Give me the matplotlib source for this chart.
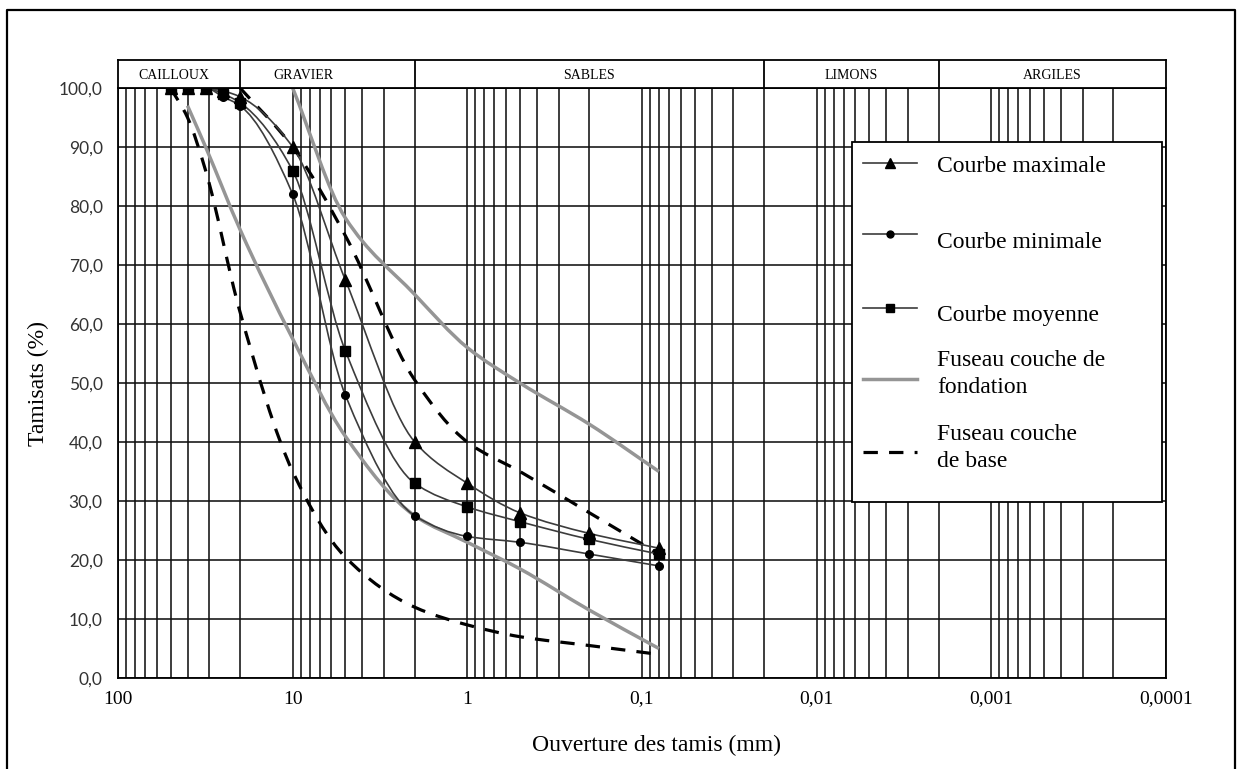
import numpy as np
import matplotlib
matplotlib.use('Agg')
import matplotlib.pyplot as plt
from matplotlib.path import Path
from matplotlib.patches import PathPatch, Rectangle
from matplotlib.ticker import FixedLocator, FixedFormatter, LogLocator, NullFormatter

# sieve openings (mm) of the three measured curves
tamis = [50, 40, 31.5, 25, 20, 10, 5, 2, 1, 0.5, 0.2, 0.08]
courbe_max = [100, 100, 100, 99.5, 98.5, 90, 67.5, 40, 33, 28, 24.5, 22]
courbe_moy = [100, 100, 100, 99, 97.5, 86, 55.5, 33, 29, 26.5, 23.5, 21]
courbe_min = [100, 100, 100, 98.5, 97, 82, 48, 27.5, 24, 23, 21, 19]

# envelopes (fuseaux)
fond_sup_x = [10, 5, 2, 1, 0.5, 0.2, 0.08]
fond_sup_y = [100, 78, 65, 56, 50, 43, 35]
fond_inf_x = [40, 31.5, 20, 10, 5, 2, 1, 0.5, 0.2, 0.08]
fond_inf_y = [97, 90, 76, 57.5, 41, 27.5, 23, 18.5, 11.5, 5]
base_sup_x = [20, 10, 5, 2, 1, 0.5, 0.2, 0.08]
base_sup_y = [100, 90, 75, 50.5, 40, 35, 28, 21]
base_inf_x = [50, 40, 31.5, 20, 10, 5, 2, 1, 0.5, 0.2, 0.08]
base_inf_y = [100, 95, 86, 62, 35, 20.5, 12, 9, 7, 5.5, 4]

classes = ['CAILLOUX', 'GRAVIER', 'SABLES', 'LIMONS', 'ARGILES']
limites = [100, 20, 2, 0.02, 0.002, 0.0001]
pos_classes = [48, 8.7, 0.2, 0.0063, 0.00045]
decades = [100, 10, 1, 0.1, 0.01, 0.001, 0.0001]
dec_labels = ['100', '10', '1', '0,1', '0,01', '0,001', '0,0001']
y_ticks = list(range(0, 101, 10))

plt.rcParams['font.family'] = ['Liberation Serif', 'DejaVu Serif']


def smooth(ax, xs, ys, **kw):
    # monotone cubic through the points, in log(x) space, drawn as bezier path
    u = np.log10(np.asarray(xs, float))
    y = np.asarray(ys, float)
    n = len(u)
    h = np.diff(u)
    d = np.diff(y) / h
    m = np.zeros(n)
    m[0], m[-1] = d[0], d[-1]
    for k in range(1, n - 1):
        if d[k - 1] * d[k] > 0:
            w1 = 2 * h[k] + h[k - 1]
            w2 = h[k] + 2 * h[k - 1]
            m[k] = (w1 + w2) / (w1 / d[k - 1] + w2 / d[k])
    verts = [(xs[0], y[0])]
    codes = [Path.MOVETO]
    for i in range(n - 1):
        verts.append((10 ** (u[i] + h[i] / 3), y[i] + m[i] * h[i] / 3))
        verts.append((10 ** (u[i + 1] - h[i] / 3), y[i + 1] - m[i + 1] * h[i] / 3))
        verts.append((xs[i + 1], y[i + 1]))
        codes += [Path.CURVE4] * 3
    ax.add_patch(PathPatch(Path(verts, codes), fill=False, **kw))


fig = plt.figure(figsize=(12.37, 7.69), dpi=100)
ax = fig.add_axes([118 / 1237, 91 / 769, 1048 / 1237, 590 / 769])
ax.set_xscale('log')
ax.set_xlim(100, 1e-4)
ax.set_ylim(0, 100)
ax.set_axisbelow(True)

ax.xaxis.set_major_locator(FixedLocator(decades))
ax.xaxis.set_major_formatter(FixedFormatter(dec_labels))
ax.xaxis.set_minor_locator(LogLocator(base=10, subs=range(2, 10)))
ax.xaxis.set_minor_formatter(NullFormatter())
ax.set_yticks(y_ticks)
ax.set_yticklabels([('%.1f' % v).replace('.', ',') for v in y_ticks],
                   family='Lato', fontsize=12.5, color='#333333')
ax.tick_params(axis='both', which='both', length=0)
ax.tick_params(axis='x', pad=9, labelsize=14)
ax.tick_params(axis='y', pad=11)
ax.grid(which='both', axis='x', color='#111111', lw=1.15)
ax.grid(which='major', axis='y', color='#111111', lw=1.15)
for s in ax.spines.values():
    s.set_linewidth(1.3)

# envelopes
fond_kw = dict(edgecolor='#959595', lw=2.5, zorder=2)
smooth(ax, fond_sup_x, fond_sup_y, **fond_kw)
smooth(ax, fond_inf_x, fond_inf_y, **fond_kw)
base_kw = dict(edgecolor='black', lw=2.3, linestyle=(0, (4.5, 3.5)), zorder=2.5)
smooth(ax, base_sup_x, base_sup_y, **base_kw)
smooth(ax, base_inf_x, base_inf_y, **base_kw)

# measured curves
curve_kw = dict(edgecolor='#3c3c3c', lw=1.2, zorder=3)
for vals, mk, ms in [(courbe_max, '^', 8), (courbe_min, 'o', 5.5), (courbe_moy, 's', 6.5)]:
    smooth(ax, tamis, vals, **curve_kw)
    ax.plot(tamis, vals, linestyle='none', marker=mk, markersize=ms,
            color='black', zorder=4)

# header band with soil classes
hx = fig.add_axes([118 / 1237, 681 / 769, 1048 / 1237, 28 / 769])
hx.set_xscale('log')
hx.set_xlim(100, 1e-4)
hx.set_ylim(0, 1)
hx.set_xticks([])
hx.set_yticks([])
hx.minorticks_off()
for s in hx.spines.values():
    s.set_linewidth(1.3)
hx.vlines(limites[1:-1], 0, 1, color='black', lw=1.3)
for name, xp in zip(classes, pos_classes):
    hx.text(xp, 0.45, name, ha='center', va='center', fontsize=10)

# axis titles
fig.text(656 / 1237, 1 - 745 / 769, 'Ouverture des tamis (mm)',
         ha='center', va='center', fontsize=17)
fig.text(38 / 1237, 1 - 383 / 769, 'Tamisats (%)', rotation=90,
         ha='center', va='center', fontsize=17)

# overlay in pixel units: outer frame and legend
ov = fig.add_axes([0, 0, 1, 1], zorder=10)
ov.set_xlim(0, 1237)
ov.set_ylim(769, 0)
ov.axis('off')
ov.patch.set_alpha(0)
ov.plot([7, 7, 1235, 1235], [769, 10, 10, 769], color='black', lw=1.6)

ov.add_patch(Rectangle((852, 142), 310, 360, facecolor='white',
                       edgecolor='black', lw=1.3))
leg_items = [
    ('Courbe maximale', 163, 166, dict(color='#3c3c3c', lw=1.2), '^', 7),
    ('Courbe minimale', 234, 242, dict(color='#3c3c3c', lw=1.2), 'o', 5),
    ('Courbe moyenne', 308, 315, dict(color='#3c3c3c', lw=1.2), 's', 6),
    ('Fuseau couche de\nfondation', 379, 374, dict(color='#959595', lw=2.5), None, 0),
    ('Fuseau couche\nde base', 452, 448, dict(color='black', lw=2.3, linestyle=(0, (4.5, 3.5))), None, 0),
]
for label, yh, yt, lkw, mk, ms in leg_items:
    ov.plot([863, 917], [yh, yh], **lkw)
    if mk:
        ov.plot([890], [yh], marker=mk, markersize=ms, color='black')
    ov.text(937, yt, label, ha='left', va='center', fontsize=17, linespacing=1.35)

plt.savefig('out.png', dpi=100)
